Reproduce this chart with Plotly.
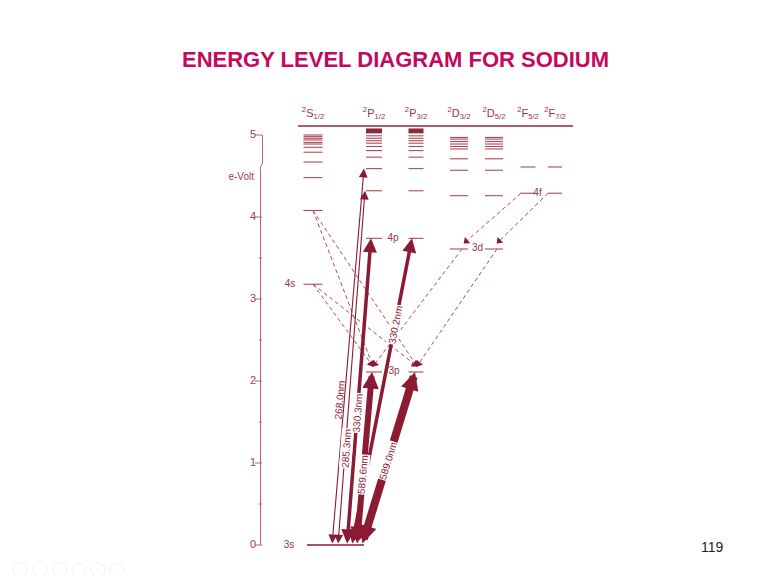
import math
import plotly.graph_objects as go

# ---------------- data ----------------
TERMS = ["<sup>2</sup>S<sub>1/2</sub>", "<sup>2</sup>P<sub>1/2</sub>", "<sup>2</sup>P<sub>3/2</sub>",
         "<sup>2</sup>D<sub>3/2</sub>", "<sup>2</sup>D<sub>5/2</sub>", "<sup>2</sup>F<sub>5/2</sub>",
         "<sup>2</sup>F<sub>7/2</sub>"]
GROUND_E = 0.0
S_LEVELS = [3.18, 4.08, 4.48, 4.67, 4.79, 4.85, 4.89, 4.91, 4.94, 4.96, 4.98, 5.00]
P_LEVELS = [2.11, 3.74, 4.32, 4.59, 4.73, 4.81, 4.86, 4.90, 4.93, 4.96, 4.99]
D_LEVELS = [3.61, 4.26, 4.57, 4.71, 4.83, 4.86, 4.89, 4.92, 4.95, 4.97]
F_LEVELS = [4.29, 4.61]
P_LIMIT_BAND = [5.02, 5.08]
IONIZATION_E = 5.11

LEVEL_NAMES = ["3s", "4s", "3p", "4p", "3d", "4f"]
LEVEL_NAME_E = [0.0, 3.18, 2.11, 3.74, 3.61, 4.29]

# resonance lines from the ground state (3s)
LINE_NAMES = ["268.0nm", "285.3nm", "330.3nm", "330.2nm", "589.6nm", "589.0nm"]
LINE_UPPER_COL = [1, 1, 1, 2, 1, 2]
LINE_UPPER_E = [4.59, 4.32, 3.74, 3.74, 2.11, 2.11]

# cascade transitions (dashed)
CASC_FROM_COL = [0, 0, 0, 0, 3, 4, 5, 6]
CASC_FROM_E = [4.08, 4.08, 3.18, 3.18, 3.61, 3.61, 4.29, 4.29]
CASC_TO_COL = [1, 2, 1, 2, 1, 2, 3, 4]
CASC_TO_E = [2.11, 2.11, 2.11, 2.11, 2.11, 2.11, 3.61, 3.61]

Y_TICKS = [0, 1, 2, 3, 4, 5]
Y_MINOR = [0.5, 1.5, 2.5, 3.5]
Y_UNIT = "e-Volt"

TITLE = "ENERGY LEVEL DIAGRAM FOR SODIUM"
PAGE = "119"

# ---------------- layout / style constants ----------------
W, H = 767, 576
PX_PER_EV = 82.0
ZERO_PX = 545.0
Y_MIN = -(H - ZERO_PX) / PX_PER_EV
Y_MAX = ZERO_PX / PX_PER_EV
COL_X = [313, 374, 416, 459, 494, 528, 555]
HALF = [9.5, 8.0, 7.5, 9.0, 9.0, 7.5, 7.0]
AXIS_X = 262
FOOT_X = [332, 338, 347, 352, 357, 362]
HEAD_DX = [-10, -9, -3, -4, -2, -1]
LINE_W = [1.1, 1.1, 3.5, 3.5, 6.0, 8.0]
LINE_HEAD = [1.6, 1.6, 0.8, 0.8, 0.55, 0.45]
LABEL_F = [0.385, 0.274, 0.43, 0.717, 0.405, 0.49]
LABEL_DX = [-5, 1.5, 0, 0, 0, 0]
LABEL_BG = [False, True, True, True, True, True]

DARK = "#8b1a33"
LEVEL_C = "#ad4a58"
DASH_C = "#b04a5a"
AXIS_C = "#c0606e"
FONT = "Liberation Sans"


def e_of_px(py):
    return (ZERO_PX - py) / PX_PER_EV


fig = go.Figure()

# ---- energy levels ----
col_levels = [S_LEVELS, P_LEVELS, P_LEVELS, D_LEVELS, D_LEVELS, F_LEVELS, F_LEVELS]
xs, ys = [], []
for c, levels in enumerate(col_levels):
    for e in levels:
        xs += [COL_X[c] - HALF[c], COL_X[c] + HALF[c], None]
        ys += [e, e, None]
fig.add_trace(go.Scatter(x=xs, y=ys, mode="lines", line=dict(color=LEVEL_C, width=1.1),
                         hoverinfo="skip", showlegend=False))

# ground state and ionization limit
fig.add_trace(go.Scatter(x=[COL_X[0] - 6, COL_X[1] - 10], y=[GROUND_E, GROUND_E], mode="lines",
                         line=dict(color=DARK, width=1.3), hoverinfo="skip", showlegend=False))
fig.add_trace(go.Scatter(x=[COL_X[0] - 15, COL_X[-1] + 18], y=[IONIZATION_E, IONIZATION_E], mode="lines",
                         line=dict(color="#8a2a3a", width=1.6), hoverinfo="skip", showlegend=False))

# dark bands (series limits of the P terms)
for c in (1, 2):
    fig.add_shape(type="rect", xref="x", yref="y", x0=COL_X[c] - HALF[c], x1=COL_X[c] + HALF[c],
                  y0=P_LIMIT_BAND[0], y1=P_LIMIT_BAND[1], fillcolor="#8a2a3a", line=dict(width=0))

# term headers
fig.add_trace(go.Scatter(x=COL_X, y=[e_of_px(114)] * len(COL_X), mode="text", text=TERMS,
                         textfont=dict(family=FONT, size=11, color="#9a3545"), hoverinfo="skip",
                         showlegend=False))

# level names
name_x = [COL_X[0] - 24, COL_X[0] - 23, (COL_X[1] + COL_X[2]) / 2 - 1, (COL_X[1] + COL_X[2]) / 2 - 2,
          (COL_X[3] + COL_X[4]) / 2 + 1, (COL_X[5] + COL_X[6]) / 2 - 4]
fig.add_trace(go.Scatter(x=name_x, y=LEVEL_NAME_E, mode="text", text=LEVEL_NAMES,
                         textfont=dict(family=FONT, size=10, color="#9a3545"), hoverinfo="skip",
                         showlegend=False))

# ---- cascade (dashed) transitions ----
def from_x(c):
    return COL_X[c] + {0: 0, 3: 3, 4: 3, 5: -7, 6: -7}.get(c, 0)


def to_x(c):
    return COL_X[c] + {1: -1, 2: 1, 3: 5, 4: 3}.get(c, 0)


dx_, dy_, mx, my, ma = [], [], [], [], []
for i in range(len(CASC_FROM_COL)):
    x0, e0 = from_x(CASC_FROM_COL[i]), CASC_FROM_E[i]
    x1, e1 = to_x(CASC_TO_COL[i]), CASC_TO_E[i] + 0.07
    dx_ += [x0, x1, None]
    dy_ += [e0, e1, None]
    vx, vy = x1 - x0, (e1 - e0) * PX_PER_EV
    ang = math.degrees(math.atan2(vx, vy))
    L = math.hypot(vx, vy)
    back = 3.0
    mx.append(x1 - vx / L * back)
    my.append(e1 - (vy / L * back) / PX_PER_EV)
    ma.append(ang)
fig.add_trace(go.Scatter(x=dx_, y=dy_, mode="lines", line=dict(color=DASH_C, width=1, dash="4px,3px"),
                         hoverinfo="skip", showlegend=False))
fig.add_trace(go.Scatter(x=mx, y=my, mode="markers",
                         marker=dict(symbol="triangle-up", size=7, angle=ma, color=DARK, line=dict(width=0)),
                         hoverinfo="skip", showlegend=False))

# ---- resonance lines (solid arrows) ----
annotations = []
for i in range(len(LINE_NAMES)):
    c = LINE_UPPER_COL[i]
    hx, he = COL_X[c] + HEAD_DX[i], LINE_UPPER_E[i]
    fx, fe = FOOT_X[i], GROUND_E
    annotations.append(dict(x=hx, y=he, ax=fx, ay=fe, xref="x", yref="y", axref="x", ayref="y",
                            text="", showarrow=True, arrowside="end+start", arrowhead=2,
                            arrowwidth=LINE_W[i], arrowsize=LINE_HEAD[i], arrowcolor=DARK,
                            standoff=0, startstandoff=0))
for i in range(len(LINE_NAMES)):
    c = LINE_UPPER_COL[i]
    hx, he = COL_X[c] + HEAD_DX[i], LINE_UPPER_E[i]
    fx, fe = FOOT_X[i], GROUND_E
    f = LABEL_F[i]
    lx = fx + f * (hx - fx) + LABEL_DX[i]
    ly = fe + f * (he - fe)
    ang = math.degrees(math.atan2((he - fe) * PX_PER_EV, hx - fx))
    annotations.append(dict(x=lx, y=ly, xref="x", yref="y", text=LINE_NAMES[i], showarrow=False,
                            textangle=-ang, font=dict(family=FONT, size=10, color=DARK),
                            bgcolor="white" if LABEL_BG[i] else "rgba(0,0,0,0)", borderpad=0,
                            xanchor="center", yanchor="middle"))

# ---- energy axis ----
ax_x = [AXIS_X + 0.5, AXIS_X + 0.5, AXIS_X - 1.8, AXIS_X - 1.5, AXIS_X - 1.5]
ax_y = [Y_TICKS[-1], e_of_px(163), e_of_px(168), e_of_px(171), Y_TICKS[0]]
fig.add_trace(go.Scatter(x=ax_x, y=ax_y, mode="lines", line=dict(color=AXIS_C, width=1),
                         hoverinfo="skip", showlegend=False))
tx, ty = [], []
for t in Y_TICKS:
    tx += [AXIS_X - 7, AXIS_X, None]
    ty += [t, t, None]
for t in Y_MINOR:
    tx += [AXIS_X - 3, AXIS_X, None]
    ty += [t, t, None]
fig.add_trace(go.Scatter(x=tx, y=ty, mode="lines", line=dict(color=AXIS_C, width=1),
                         hoverinfo="skip", showlegend=False))
fig.add_trace(go.Scatter(x=[AXIS_X - 6] * len(Y_TICKS), y=Y_TICKS, mode="text",
                         text=[str(t) for t in Y_TICKS], textposition="middle left",
                         textfont=dict(family=FONT, size=11, color="#a0404f"), hoverinfo="skip",
                         showlegend=False))
fig.add_trace(go.Scatter(x=[AXIS_X - 8], y=[e_of_px(177)], mode="text", text=[Y_UNIT],
                         textposition="middle left",
                         textfont=dict(family=FONT, size=10, color="#a0404f"), hoverinfo="skip",
                         showlegend=False))

# slide navigation icons (faint)
fig.add_trace(go.Scatter(x=[20, 40, 60, 79, 98, 117], y=[e_of_px(570)] * 6, mode="markers",
                         marker=dict(symbol="circle-open", size=14, color="#f0f0f0", line=dict(width=1)),
                         hoverinfo="skip", showlegend=False))

# title and page number
annotations.append(dict(x=395 / W, y=1 - 60 / H, xref="paper", yref="paper", text="<b>" + TITLE + "</b>",
                        showarrow=False, font=dict(family=FONT, size=22, color="#bf0a5e"),
                        xanchor="center", yanchor="middle"))
annotations.append(dict(x=712 / W, y=1 - 547 / H, xref="paper", yref="paper", text=PAGE,
                        showarrow=False, font=dict(family=FONT, size=14, color="#222222"),
                        xanchor="center", yanchor="middle"))

fig.update_layout(
    width=W, height=H, autosize=False,
    margin=dict(l=0, r=0, t=0, b=0, pad=0),
    paper_bgcolor="white", plot_bgcolor="white",
    xaxis=dict(range=[0, W], visible=False, fixedrange=True),
    yaxis=dict(range=[Y_MIN, Y_MAX], visible=False, fixedrange=True),
    annotations=annotations,
    showlegend=False,
)

fig.write_html("out.html", post_script="document.body.style.margin='0';",
               config={"displayModeBar": False})
